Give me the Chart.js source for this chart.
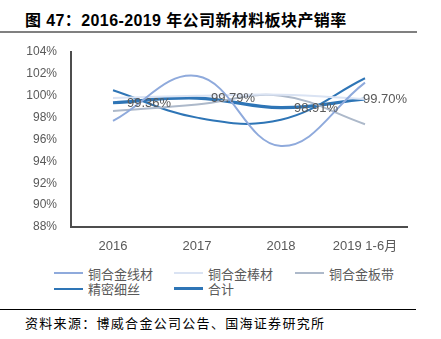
<!DOCTYPE html>
<html><head><meta charset="utf-8">
<script src="https://cdn.jsdelivr.net/npm/chart.js@4"></script>
<style>
html,body{margin:0;padding:0;background:#fff;width:441px;height:339px;overflow:hidden;position:relative;font-family:"Liberation Sans","Noto Sans CJK SC",sans-serif;}
#title{position:absolute;left:25px;top:7px;font-size:16px;font-weight:bold;color:#000;white-space:nowrap;letter-spacing:0.4px;}
#topline{position:absolute;left:0;top:31px;width:417px;height:2px;background:#808080;}
#botline{position:absolute;left:0;top:309px;width:416px;height:1px;background:#000;}
#source{position:absolute;left:25px;top:313px;font-size:13px;color:#000;white-space:nowrap;letter-spacing:1.3px;font-family:"Noto Sans CJK SC",sans-serif;}
#wrap{position:absolute;left:0;top:40px;width:441px;height:220px;}
#legend{position:absolute;left:54px;top:264px;width:380px;font-size:13px;color:#595959;font-family:"Noto Sans CJK SC",sans-serif;}
.item{position:absolute;display:flex;align-items:center;height:18px;white-space:nowrap;}
.swatch{width:29px;margin-right:5px;}
</style></head>
<body>
<div id="title">图 47：2016-2019 年公司新材料板块产销率</div>
<div id="topline"></div>
<div id="wrap"><canvas id="c"></canvas></div>
<div id="legend"></div>
<div id="botline"></div>
<div id="source">资料来源：博威合金公司公告、国海证券研究所</div>
<script>
const categories = ["2016", "2017", "2018", "2019 1-6月"];
const wireRate   = [97.7, 101.8, 95.4, 101.2];   // 铜合金线材
const rodRate    = [99.8, 100.0, 100.1, 99.7];   // 铜合金棒材
const stripRate  = [98.6, 99.2, 100.0, 97.4];    // 铜合金板带
const fineRate   = [100.5, 98.0, 97.8, 101.6];   // 精密细丝
const totalRate  = [99.36, 99.79, 98.91, 99.70]; // 合计
const seriesNames = ["铜合金线材", "铜合金棒材", "铜合金板带", "精密细丝", "合计"];
const yTicks = [88, 90, 92, 94, 96, 98, 100, 102, 104];

const colors = ["#8FAADC", "#DAE3F3", "#ADB9CA", "#2E75B6", "#2E75B6"];
const widths = [2, 2, 2, 2, 3.2];
const seriesData = [wireRate, rodRate, stripRate, fineRate, totalRate];

const labelOffsets = [[14, 0.5], [14, 0.5], [13, 0.5], [-2, 0.5]];

const labelPlugin = {
  id: 'totalLabels',
  afterDatasetsDraw(chart) {
    const ctx = chart.ctx;
    const meta = chart.getDatasetMeta(4);
    ctx.save();
    ctx.font = '13px "Liberation Sans", sans-serif';
    ctx.fillStyle = '#595959';
    ctx.textAlign = 'left';
    ctx.textBaseline = 'middle';
    meta.data.forEach((pt, i) => {
      const v = totalRate[i];
      const off = labelOffsets[i];
      ctx.fillText(v.toFixed(2) + '%', pt.x + off[0], pt.y + off[1]);
    });
    ctx.restore();
  }
};

const datasets = seriesNames.map((n, i) => ({
  label: n,
  data: seriesData[i],
  borderColor: colors[i],
  backgroundColor: colors[i],
  borderWidth: widths[i],
  pointRadius: 0,
  tension: 0.4,
  fill: false
}));

new Chart(document.getElementById('c'), {
  type: 'line',
  data: { labels: categories, datasets: datasets },
  options: {
    responsive: true,
    maintainAspectRatio: false,
    animation: false,
    layout: { autoPadding: false, padding: { left: 0, right: 34, top: 12, bottom: 0 } },
    plugins: { legend: { display: false }, tooltip: { enabled: false } },
    scales: {
      x: {
        offset: true,
        grid: { display: false, drawTicks: false },
        border: { display: true, color: '#4d4d4d', width: 2 },
        ticks: { color: '#595959', font: { size: 13, family: '"Liberation Sans", "Noto Sans CJK SC", sans-serif' }, padding: 12, maxRotation: 0 },
        afterFit(s) { s.height = 33; s.paddingLeft = 0; s.paddingRight = 0; }
      },
      y: {
        min: 88, max: 104,
        grid: { display: false, drawTicks: false },
        border: { display: true, color: '#4d4d4d', width: 2 },
        afterBuildTicks(s) { s.ticks = yTicks.map(v => ({ value: v })); },
        ticks: { color: '#595959', font: { size: 12, family: '"Liberation Sans", sans-serif' }, padding: 14, callback: v => v + '%' },
        afterFit(s) { s.width = 71; s.paddingTop = 0; s.paddingBottom = 0; }
      }
    }
  },
  plugins: [labelPlugin]
});

const legend = document.getElementById('legend');
const colX = [0, 120, 241];
seriesNames.forEach((n, i) => {
  const d = document.createElement('div');
  d.className = 'item';
  d.style.left = colX[i % 3] + 'px';
  d.style.top = (Math.floor(i / 3) * 15.6) + 'px';
  const sw = document.createElement('span');
  sw.className = 'swatch';
  sw.style.height = widths[i] + 'px';
  sw.style.background = colors[i];
  d.appendChild(sw);
  const t = document.createElement('span');
  t.textContent = n;
  d.appendChild(t);
  legend.appendChild(d);
});
</script>
</body></html>
